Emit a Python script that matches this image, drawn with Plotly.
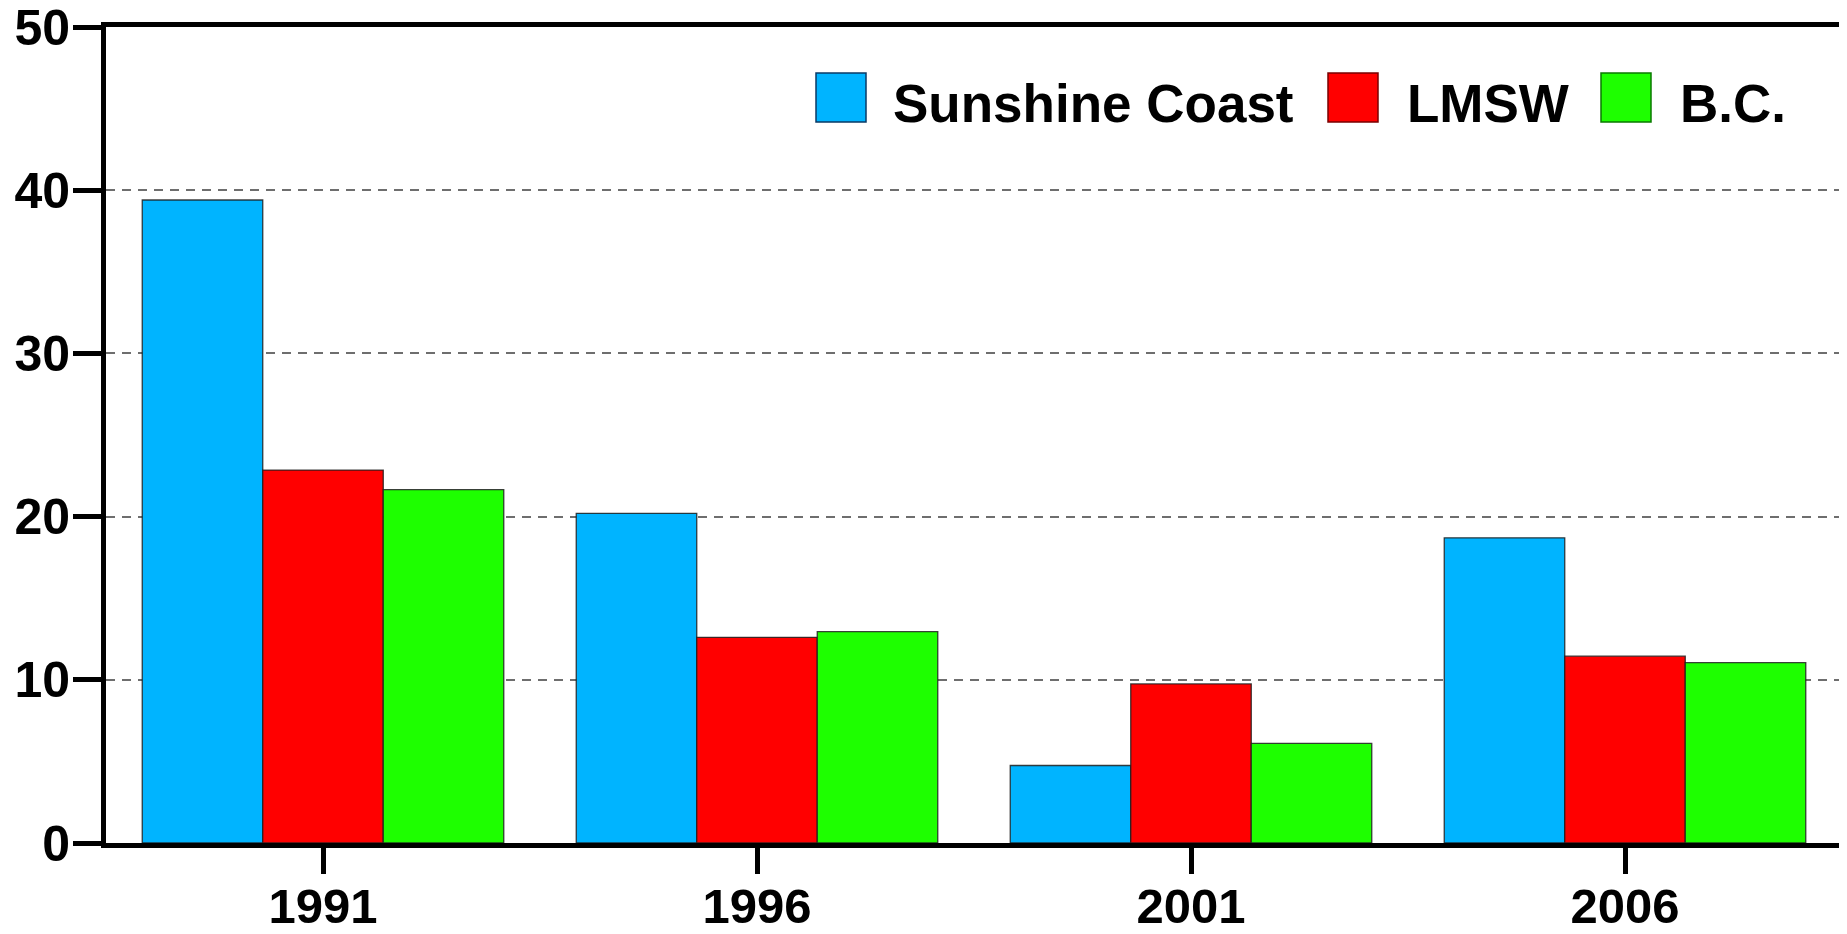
import plotly.graph_objects as go

years = ["1991", "1996", "2001", "2006"]
series_names = ["Sunshine Coast", "LMSW", "B.C."]
sunshine_coast = [39.4, 20.2, 4.75, 18.7]
lmsw = [22.85, 12.6, 9.75, 11.45]
bc = [21.65, 12.95, 6.1, 11.05]
series_values = [sunshine_coast, lmsw, bc]
fill_colors = ["#00B4FF", "#FF0000", "#1EFF00"]
edge_colors = ["#0A3A66", "#7A0000", "#0A7A00"]
y_ticks = [0, 10, 20, 30, 40, 50]

# the page body has an 8px default margin; work in window pixels
OFF = 8
WIN_W, WIN_H = 1847, 934
W, H = WIN_W - OFF, WIN_H - OFF
plot_left, plot_right, plot_top, plot_bottom = 106, 1842, 27, 843.5   # window px
L = plot_left - OFF
R = W - (plot_right - OFF)
T = plot_top - OFF
B = H - (plot_bottom - OFF)
PW, PH = W - L - R, H - T - B

def px_x(px):
    return (px - OFF - L) / PW

def px_y(py):
    return (plot_bottom - py) / PH

FONT = "Liberation Sans, Arial, Helvetica, sans-serif"

fig = go.Figure()
for name, vals, col in zip(series_names, series_values, fill_colors):
    fig.add_trace(go.Bar(
        x=years, y=vals, name=name,
        marker=dict(color=col, line=dict(color="rgba(30,30,30,0.85)", width=1.3)),
        showlegend=False,
    ))

# custom legend (large swatches), window pixel positions
leg_swatch_x = [816, 1328, 1601]
leg_text_x = [891, 1405, 1678]
sw = 50
sy0, sy1 = 73, 122
shapes = []
annotations = []
for name, col, ec, sx, tx in zip(series_names, fill_colors, edge_colors, leg_swatch_x, leg_text_x):
    shapes.append(dict(type="rect", xref="paper", yref="paper",
                       x0=px_x(sx), x1=px_x(sx + sw), y0=px_y(sy1), y1=px_y(sy0),
                       fillcolor=col, line=dict(color=ec, width=1.5), layer="above"))
    annotations.append(dict(xref="paper", yref="paper", x=px_x(tx), y=px_y(104),
                            xanchor="left", yanchor="middle", showarrow=False,
                            text=name, font=dict(family=FONT, size=53, color="black", weight="bold")))

fig.update_layout(
    width=W, height=H,
    margin=dict(l=L, r=R, t=T, b=B, pad=0, autoexpand=False),
    paper_bgcolor="white", plot_bgcolor="white",
    barmode="group", bargap=0.167, bargroupgap=0,
    font=dict(family=FONT, size=50, color="black", weight="bold"),
    shapes=shapes, annotations=annotations,
    xaxis=dict(
        type="category", range=[-0.5, 3.5], automargin=False,
        showline=True, linewidth=5, linecolor="black", mirror=True,
        ticks="outside", ticklen=26, tickwidth=5, tickcolor="black",
        ticklabelstandoff=-10,
        tickfont=dict(family=FONT, size=49, color="black", weight="bold"),
        showgrid=False, zeroline=False,
    ),
    yaxis=dict(
        range=[0, 50], tickvals=y_ticks, automargin=False,
        ticklabeloverflow="allow", ticklabelstandoff=-7,
        showline=True, linewidth=5, linecolor="black", mirror=True,
        ticks="outside", ticklen=28, tickwidth=5, tickcolor="black",
        tickfont=dict(family=FONT, size=50, color="black", weight="bold"),
        showgrid=True, gridcolor="#6E6E6E", gridwidth=1.5, griddash="9px,7px",
        zeroline=False,
    ),
)

fig.write_html("out.html")
